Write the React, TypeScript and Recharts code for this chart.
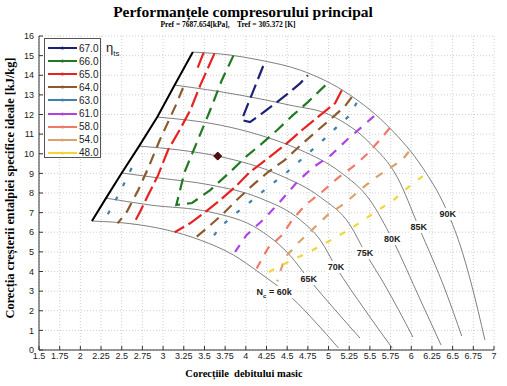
import React from "react";
import { ComposedChart, Line, Scatter, XAxis, YAxis, CartesianGrid } from "recharts";

type Pt = [number, number] | null;

const xTicks = [1.5, 1.75, 2, 2.25, 2.5, 2.75, 3, 3.25, 3.5, 3.75, 4, 4.25, 4.5, 4.75, 5, 5.25, 5.5, 5.75, 6, 6.25, 6.5, 6.75, 7];
const yTicks = [0, 1, 2, 3, 4, 5, 6, 7, 8, 9, 10, 11, 12, 13, 14, 15, 16];

// speed lines (corrected speed Nc)
const n60: Pt[] = [[2.14, 6.57], [2.64, 6.42], [3.05, 6.11], [3.45, 5.6], [3.85, 4.84], [4.17, 3.92], [4.56, 2.65], [4.84, 1.43], [5.12, 0.1]];
const n65: Pt[] = [[2.31, 7.74], [2.84, 7.39], [3.57, 7.03], [4.17, 6.11], [4.53, 4.84], [4.76, 3.62], [5.08, 2.04], [5.38, 0.61]];
const n70: Pt[] = [[2.5, 9.02], [2.96, 8.76], [3.57, 8.41], [4.17, 7.74], [4.66, 6.62], [4.9, 5.6], [5.09, 4.23], [5.44, 2.04], [5.77, 0.1]];
const n75: Pt[] = [[2.71, 10.39], [3.2, 10.19], [3.66, 9.88], [4.41, 8.91], [4.9, 7.79], [5.26, 6.37], [5.44, 4.99], [5.68, 3.31], [6.02, 0.66]];
const n80: Pt[] = [[2.93, 11.87], [3.69, 11.46], [4.17, 10.95], [4.66, 10.19], [5.14, 9.07], [5.5, 7.64], [5.77, 5.65], [6.11, 2.55], [6.36, 0.25]];
const n85: Pt[] = [[3.14, 13.5], [3.93, 12.99], [4.53, 12.48], [5.02, 11.97], [5.5, 10.54], [5.83, 8.81], [6.09, 6.27], [6.41, 3.06], [6.61, 0.71]];
const n90: Pt[] = [[3.36, 15.18], [3.81, 15.03], [4.17, 14.77], [4.66, 14.26], [5.26, 12.99], [5.74, 11.31], [6.14, 9.27], [6.41, 7.28], [6.59, 5.35], [6.73, 3.31], [6.89, 0.51]];
const speedLines = [n60, n65, n70, n75, n80, n85, n90];

const surge: Pt[] = [[2.14, 6.57], [2.31, 7.74], [2.5, 9.02], [2.71, 10.39], [2.93, 11.87], [3.14, 13.5], [3.36, 15.18]];

const speedTags = [
  { x: 4.36, y: 2.95, t: "60k" },
  { x: 4.76, y: 3.62, t: "65K" },
  { x: 5.09, y: 4.23, t: "70K" },
  { x: 5.44, y: 4.94, t: "75K" },
  { x: 5.77, y: 5.65, t: "80K" },
  { x: 6.09, y: 6.27, t: "85K" },
  { x: 6.44, y: 6.93, t: "90K" },
];

const designPoint = [{ x: 3.66, y: 9.88 }];

// isentropic efficiency contours, eta_ts [%]
const etaLevels = ["67.0", "66.0", "65.0", "64.0", "63.0", "61.0", "58.0", "54.0", "48.0"];

const eta67: Pt[] = [[4.21, 14.47], [4.07, 12.99], [3.95, 11.72], [4.05, 11.61], [4.17, 11.97], [4.33, 12.48], [4.5, 13.04], [4.66, 13.6], [4.75, 14.0]];
const eta66: Pt[] = [[3.85, 15.0], [3.71, 13.75], [3.57, 12.23], [3.42, 10.7], [3.26, 9.07], [3.16, 7.39], [3.35, 7.49], [3.57, 8.15], [3.81, 9.07], [4.01, 9.88], [4.2, 10.54], [4.38, 11.21], [4.57, 11.97], [4.75, 12.63], [4.9, 13.24], [4.99, 13.6]];
const eta65: Pt[] = [
  [3.62, 15.1], [3.45, 13.5], [3.33, 12.23], [3.2, 11.21], [3.06, 10.19], [2.94, 8.91], [2.82, 7.9], [2.72, 7.03], [2.64, 6.4],
  null,
  [5.16, 13.24], [5.08, 12.58], [4.87, 11.87], [4.68, 11.21], [4.47, 10.44], [4.27, 9.78], [4.05, 9.07], [3.87, 8.3], [3.69, 7.64], [3.51, 7.03], [3.33, 6.47], [3.14, 6.0],
  null,
  [3.49, 15.15], [3.4, 14.2],
];
const eta64: Pt[] = [
  [3.24, 13.35], [3.16, 12.53], [3.06, 11.61], [2.96, 10.7], [2.82, 9.27], [2.7, 8.15], [2.56, 7.03], [2.45, 6.45],
  null,
  [5.28, 12.89], [5.2, 12.43], [5.08, 11.97], [4.9, 11.31], [4.69, 10.54], [4.47, 9.68], [4.27, 9.07], [4.07, 8.35], [3.89, 7.64], [3.71, 6.88], [3.53, 6.21], [3.38, 5.68],
];
const eta63: Pt[] = [
  [2.62, 9.27], [2.48, 8.05], [2.29, 6.6],
  null,
  [5.34, 12.6], [5.26, 11.97], [5.1, 11.36], [4.91, 10.6], [4.69, 9.78], [4.5, 9.07], [4.27, 8.3], [4.05, 7.54], [3.87, 6.93], [3.69, 6.27], [3.55, 5.45],
];
const eta61: Pt[] = [[5.55, 11.92], [5.4, 11.36], [5.22, 10.7], [5.03, 9.93], [4.8, 9.27], [4.62, 8.56], [4.41, 7.54], [4.23, 6.72], [4.01, 5.86], [3.87, 5.0]];
const eta58: Pt[] = [[5.74, 11.31], [5.62, 10.7], [5.48, 10.04], [5.32, 9.42], [5.11, 8.76], [4.92, 8.05], [4.72, 7.39], [4.56, 6.62], [4.44, 5.86], [4.27, 5.2], [4.13, 4.15]];
const eta54: Pt[] = [[5.97, 10.1], [5.89, 9.68], [5.74, 9.27], [5.56, 8.76], [5.38, 8.15], [5.2, 7.49], [4.99, 6.88], [4.81, 6.16], [4.63, 5.45], [4.47, 4.69], [4.38, 3.5]];
const eta48: Pt[] = [[6.14, 8.86], [5.98, 8.35], [5.8, 7.69], [5.62, 7.18], [5.44, 6.67], [5.26, 6.16], [5.05, 5.65], [4.9, 5.3], [4.74, 4.94], [4.56, 4.58], [4.39, 4.23], [4.21, 3.82]];
const etaLines = [eta67, eta66, eta65, eta64, eta63, eta61, eta58, eta54, eta48];

// styling
const etaColors = ["#1c2272", "#217a21", "#e62222", "#8a5a30", "#3f80ad", "#b043e0", "#f07a68", "#d9a26e", "#f0d63c"];
const etaDash = ["14 6", "12 7", "16 5", "11 7", "4 12", "9 8", "9 8", "8 9", "6 10"];
const serif = "'Liberation Serif', 'Times New Roman', serif";
const sans = "'Liberation Sans', Arial, sans-serif";

const rows = (pts: Pt[]) =>
  pts.map((p, i) => (p ? { x: p[0], y: p[1] } : { x: (pts[i - 1] as [number, number])[0], y: null }));

const SpeedTag = (props: any) => {
  const { cx, cy, payload } = props;
  if (payload.t === "60k") {
    return (
      <g>
        <rect x={cx - 20} y={cy - 6} width={40} height={12} fill="#fff" />
        <text x={cx - 19} y={cy + 3} fontSize={9} fontWeight="bold" fontFamily={sans} fill="#222">
          <tspan>N</tspan>
          <tspan dy={3} fontSize={6}>c</tspan>
          <tspan dy={-3}>{"  =  60k"}</tspan>
        </text>
      </g>
    );
  }
  return (
    <g>
      <rect x={cx - 10} y={cy - 6} width={20} height={12} fill="#fff" />
      <text x={cx} y={cy + 3} textAnchor="middle" fontSize={9} fontWeight="bold" fontFamily={sans} fill="#222">
        {payload.t}
      </text>
    </g>
  );
};

const Diamond = (props: any) => {
  const { cx, cy } = props;
  return <polygon points={`${cx},${cy - 4} ${cx + 4},${cy} ${cx},${cy + 4} ${cx - 4},${cy}`} fill="#5a0c0c" stroke="#2a0505" strokeWidth={1} />;
};

export default function App() {
  const tick = { fontSize: 9, fill: "#222", fontFamily: sans };
  return (
    <div style={{ position: "absolute", left: 0, top: 0, width: 507, height: 386, background: "#fff" }}>
      <ComposedChart width={507} height={386} margin={{ top: 36, right: 13, bottom: 0, left: 0 }}>
        <CartesianGrid stroke="#cfcfcf" strokeDasharray="1 2" />
        <XAxis dataKey="x" type="number" domain={[1.5, 7]} ticks={xTicks} interval={0} height={36} tickSize={-4} tickMargin={7} stroke="#333" tick={tick} allowDataOverflow />
        <XAxis xAxisId="top" orientation="top" type="number" domain={[1.5, 7]} ticks={xTicks} interval={0} height={0} tickSize={-4} tickFormatter={() => ""} stroke="#333" allowDataOverflow />
        <YAxis dataKey="y" type="number" domain={[0, 16]} ticks={yTicks} interval={0} width={39} tickSize={-4} tickMargin={9} stroke="#333" tick={tick} allowDataOverflow />
        <YAxis yAxisId="right" orientation="right" type="number" domain={[0, 16]} ticks={yTicks} interval={0} width={0} tickSize={-4} tickFormatter={() => ""} stroke="#333" allowDataOverflow />

        {speedLines.map((s, i) => (
          <Line key={"n" + i} data={rows(s)} dataKey="y" type="monotone" stroke="#808080" strokeWidth={1} dot={false} isAnimationActive={false} />
        ))}
        <Line data={rows(surge)} dataKey="y" type="linear" stroke="#000" strokeWidth={2} dot={false} isAnimationActive={false} />

        {etaLines.map((s, i) => (
          <Line
            key={etaLevels[i]}
            name={etaLevels[i]}
            data={rows(s)}
            dataKey="y"
            type="linear"
            stroke={etaColors[i]}
            strokeWidth={2.2}
            strokeDasharray={etaDash[i]}
            dot={false}
            isAnimationActive={false}
          />
        ))}

        <Scatter data={designPoint} shape={<Diamond />} isAnimationActive={false} />
        <Scatter data={speedTags} shape={<SpeedTag />} isAnimationActive={false} />
      </ComposedChart>

      <div style={{ position: "absolute", left: 0, top: 3, width: 486, textAlign: "center", fontFamily: serif, fontWeight: "bold", fontSize: 15.5, lineHeight: "18px" }}>
        Performanțele compresorului principal
      </div>
      <div style={{ position: "absolute", left: 0, top: 20, width: 456, textAlign: "center", fontFamily: serif, fontWeight: "bold", fontSize: 7.5, lineHeight: "10px", whiteSpace: "pre" }}>
        {"Pref = 7687.654[kPa],    Tref = 305.372 [K]"}
      </div>
      <div style={{ position: "absolute", left: 0, top: 367, width: 488, textAlign: "center", fontFamily: serif, fontWeight: "bold", fontSize: 10.5, lineHeight: "14px", whiteSpace: "pre" }}>
        {"Corecțiile  debitului masic"}
      </div>
      <div style={{ position: "absolute", left: -150, top: 181, width: 320, height: 14, textAlign: "center", fontFamily: serif, fontWeight: "bold", fontSize: 12.3, lineHeight: "14px", transform: "rotate(-90deg)", whiteSpace: "nowrap" }}>
        Corecția creșterii entalpiei specifice ideale [kJ/kg]
      </div>

      <div style={{ position: "absolute", left: 44, top: 38, width: 57, height: 120, border: "1px solid #555", background: "#fff", boxSizing: "border-box" }}>
        {etaLevels.map((lv, i) => (
          <div key={lv} style={{ position: "absolute", left: 3, top: 3 + i * 13.1, height: 12, display: "flex", alignItems: "center" }}>
            <svg width={29} height={12}>
              <line x1={0} y1={6} x2={29} y2={6} stroke={etaColors[i]} strokeWidth={2} />
              <circle cx={14.5} cy={6} r={1.6} fill={etaColors[i]} />
            </svg>
            <span style={{ fontSize: 10, fontFamily: sans, marginLeft: 2, color: "#222" }}>{lv}</span>
          </div>
        ))}
      </div>
      <div style={{ position: "absolute", left: 106, top: 40, fontFamily: sans, fontSize: 13, color: "#222" }}>
        η<sub style={{ fontSize: 8 }}>ts</sub>
      </div>
    </div>
  );
}
